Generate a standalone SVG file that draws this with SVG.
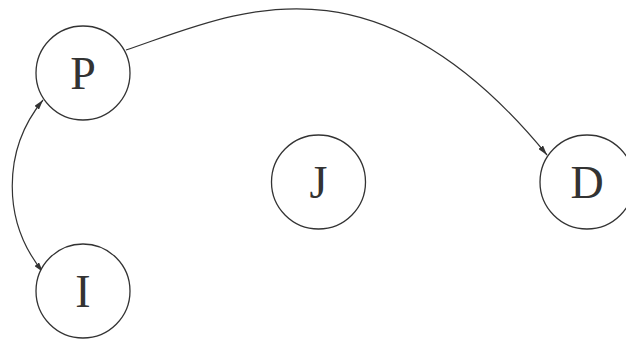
<svg xmlns="http://www.w3.org/2000/svg" width="626" height="339" viewBox="0 0 626 339">
<style>
.node circle{fill:#fff;stroke:#333;stroke-width:1.3}
.node text{font-family:"Liberation Serif","Times New Roman",serif;font-size:46px;fill:#333;text-anchor:middle}
.edge{fill:none;stroke:#333;stroke-width:1.2}
</style>
<defs>
<marker id="arr" viewBox="0 0 10 6" refX="10" refY="3" markerWidth="10" markerHeight="6" markerUnits="userSpaceOnUse" orient="auto-start-reverse">
<path d="M0,0 L10,3 L0,6 Z" fill="#333"/>
</marker>
</defs>
<g id="connectors">
<path class="edge" d="M126,50 C230,15 372,-59 547,155" marker-end="url(#arr)"/>
<path class="edge" d="M43,100 C2,150 2,222 43,272" marker-start="url(#arr)" marker-end="url(#arr)"/>
</g>
<g id="P" class="node"><circle cx="83" cy="73" r="47"/><text x="83" y="89">P</text></g>
<g id="I" class="node"><circle cx="83" cy="291" r="47"/><text x="83" y="307">I</text></g>
<g id="J" class="node"><circle cx="318.5" cy="182" r="47"/><text x="318.5" y="198">J</text></g>
<g id="D" class="node"><circle cx="587" cy="182" r="47"/><text x="587" y="198">D</text></g>
</svg>
